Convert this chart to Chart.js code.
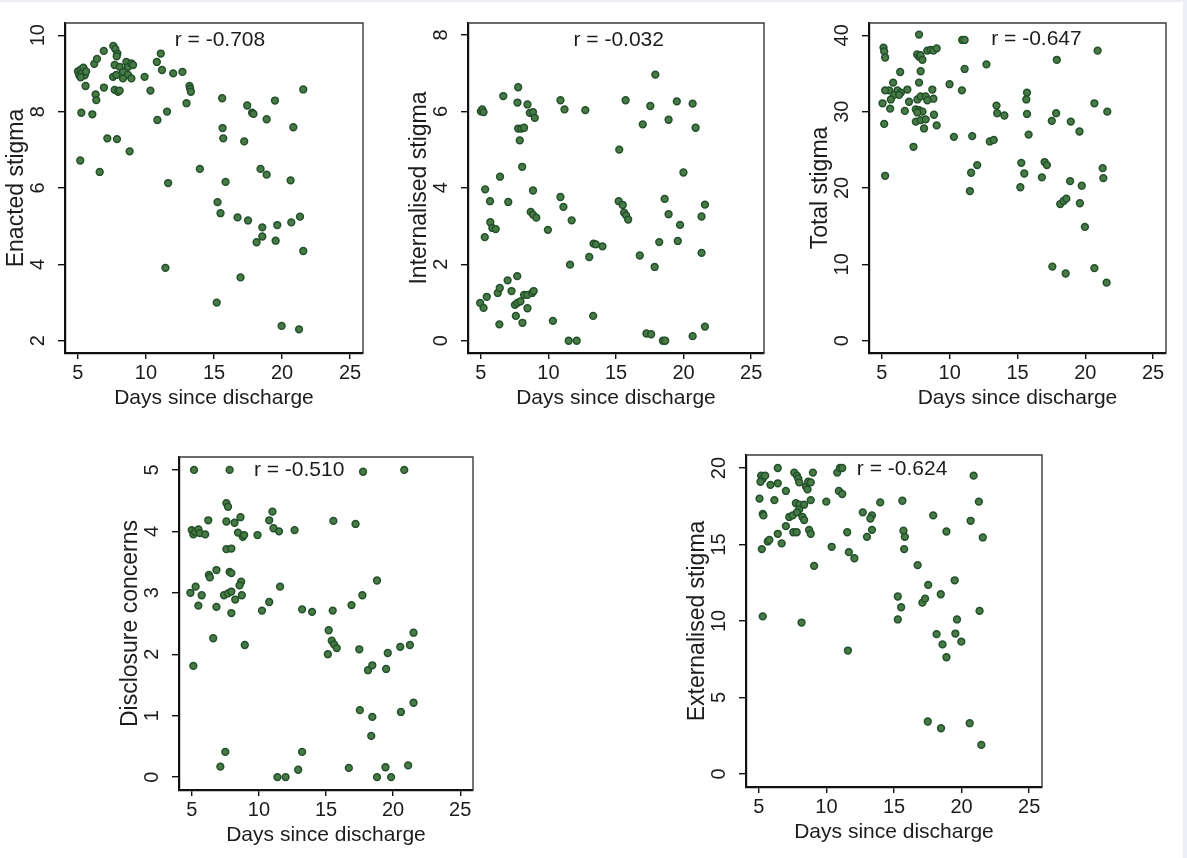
<!DOCTYPE html>
<html>
<head>
<meta charset="utf-8">
<title>Stigma vs days since discharge</title>
<script src="https://cdn.jsdelivr.net/npm/chart.js@4.4.1/dist/chart.umd.min.js"></script>
<style>
  html, body { margin: 0; padding: 0; }
  body { width: 1187px; height: 858px; background: #eceef5; position: relative; overflow: hidden; }
  #sheet { position: absolute; left: 0; top: 2px; width: 1183px; height: 856px; background: #fff; }
  canvas { position: absolute; }
</style>
</head>
<body>
<div id="sheet"></div>
<script>
// ---- data ----
const xTicks = [5, 10, 15, 20, 25];

const enactedDays  = [5.0, 5.1, 5.2, 5.3, 5.4, 5.5, 5.6, 5.2, 5.56, 6.2, 6.4, 6.9, 7.6, 7.75, 7.9, 7.85,
  7.7, 8.07, 8.56, 8.68, 8.93, 9.05, 8.31, 8.68, 7.58, 7.82, 8.31, 8.93, 7.7, 7.95, 8.07, 6.3, 6.35, 6.91,
  5.25, 6.06, 9.9, 10.33, 10.8, 11.09, 11.18, 12.0, 12.68, 13.2, 13.25, 13.3, 12.98, 11.55, 10.84, 15.6,
  17.44, 17.8, 17.9, 19.48, 21.56, 18.87, 20.83, 15.63, 15.68, 17.22, 7.16, 7.87, 8.8, 5.17, 6.6, 13.96,
  18.42, 18.87, 20.63, 11.63, 15.85, 15.26, 15.48, 16.73, 17.5, 18.55, 19.65, 20.68, 21.32, 18.55, 18.13,
  19.53, 21.56, 11.43, 16.95, 15.2, 19.97, 21.25];
const enactedScore = [9.05, 8.95, 9.1, 9.0, 9.15, 8.95, 9.05, 8.9, 8.67, 9.25, 9.38, 9.59, 9.72, 9.64, 9.52, 9.45,
  9.22, 9.17, 9.3, 9.17, 9.26, 9.22, 9.04, 8.96, 8.91, 8.96, 8.87, 8.87, 8.57, 8.52, 8.55, 8.45, 8.3, 8.63,
  7.97, 7.93, 8.91, 8.55, 9.3, 9.52, 9.09, 9.0, 9.04, 8.67, 8.6, 8.52, 8.22, 8.0, 7.78, 8.35,
  8.16, 7.97, 7.94, 8.29, 8.58, 7.8, 7.59, 7.57, 7.3, 7.22, 7.3, 7.28, 6.96, 6.72, 6.42, 6.5,
  6.5, 6.35, 6.2, 6.13, 6.16, 5.63, 5.34, 5.23, 5.15, 4.97, 5.03, 5.1, 5.25, 4.73, 4.58,
  4.62, 4.35, 3.91, 3.66, 3.0, 2.39, 2.3];
const enactedTicks = [2, 4, 6, 8, 10];

const internalDays  = [5.0, 5.1, 5.2, 6.66, 7.76, 7.71, 8.45, 8.62, 8.86, 8.99, 7.76, 8.0, 8.2, 7.88, 8.06, 6.42,
  10.89, 11.19, 12.73, 15.71, 15.24, 16.98, 17.54, 17.91, 18.89, 19.5, 20.67, 20.89, 19.99,
  5.32, 5.68, 7.03, 8.86, 10.89, 11.11, 11.72, 5.7, 5.85, 6.1, 5.29, 8.69, 8.86, 9.1, 9.96, 15.2, 15.5,
  15.6, 15.75, 15.9, 18.6, 18.89, 19.74, 21.58, 21.33, 19.57, 18.2, 21.33, 16.76, 17.86, 13.34, 13.51,
  14.0, 13.02, 11.6, 4.95, 5.2, 5.44, 6.25, 6.4, 6.98, 7.27, 7.69, 7.52, 7.71, 7.93, 8.2, 8.45, 8.79,
  8.91, 8.45, 7.59, 6.37, 8.08, 10.33, 13.31, 11.5, 12.09, 17.25, 17.6, 18.47, 18.64, 20.67, 21.58];
const internalScore = [6.0, 6.05, 5.98, 6.4, 6.63, 6.23, 6.18, 5.96, 5.98, 5.83, 5.55, 5.55, 5.57, 5.24, 4.55, 4.29,
  6.29, 6.05, 6.03, 6.29, 5.0, 5.66, 6.14, 6.96, 5.78, 6.26, 6.2, 5.57, 4.4,
  3.96, 3.65, 3.63, 3.93, 3.76, 3.5, 3.15, 3.1, 2.95, 2.92, 2.71, 3.37, 3.3, 3.22, 2.9, 3.65, 3.55,
  3.35, 3.28, 3.17, 3.71, 3.31, 3.03, 3.56, 3.25, 2.61, 2.58, 2.3, 2.23, 1.93, 2.54, 2.52,
  2.47, 2.19, 1.99, 0.99, 0.86, 1.15, 1.25, 1.38, 1.58, 1.3, 1.69, 0.94, 0.99, 1.03, 1.2, 1.2, 1.25,
  1.3, 0.85, 0.65, 0.43, 0.47, 0.52, 0.65, 0.0, 0.0, 0.19, 0.17, 0.0, 0.0, 0.12, 0.37];
const internalTicks = [0, 2, 4, 6, 8];

const totalDays  = [5.12, 5.17, 5.24, 7.74, 7.6, 7.75, 7.85, 7.99, 8.35, 8.6, 8.8, 9.04, 10.92, 11.1, 11.1, 12.71,
  17.9, 20.91, 6.35, 7.86, 7.74, 5.83, 5.54, 6.15, 6.4, 5.9, 6.27, 6.88, 5.24, 5.66, 5.05, 5.61, 6.69,
  7.0, 7.62, 7.86, 8.23, 8.72, 8.8, 8.35, 7.5, 7.74, 7.99, 7.62, 5.17, 7.5, 7.86, 8.23, 8.11, 8.84, 9.04,
  7.33, 9.99, 10.9, 10.31, 11.66, 12.96, 13.25, 13.45, 13.5, 14.03, 15.7, 15.65, 15.7, 15.82, 17.53,
  17.85, 18.93, 19.57, 20.67, 21.62, 5.24, 11.58, 12.03, 11.49, 15.28, 15.5, 15.21, 16.8, 17.0, 17.17,
  18.88, 19.74, 21.28, 21.33, 18.15, 18.4, 18.6, 19.6, 19.97, 17.57, 18.55, 20.67, 21.57];
const totalScore = [38.4, 37.9, 37.1, 40.1, 37.5, 37.2, 37.4, 36.8, 38.0, 38.1, 38.0, 38.3, 39.4, 39.4, 35.6, 36.2,
  36.8, 38.0, 35.2, 35.3, 33.8, 33.8, 32.8, 32.8, 32.5, 32.2, 32.2, 32.9, 32.8, 31.6, 31.1, 30.4, 30.1,
  31.3, 31.6, 32.0, 32.0, 32.9, 31.7, 31.5, 30.3, 30.2, 30.0, 29.9, 28.4, 28.7, 28.9, 29.0, 27.8, 29.6, 28.2,
  25.4, 33.6, 32.8, 26.7, 26.8, 26.1, 26.3, 30.8, 29.8, 29.5, 32.5, 31.6, 29.7, 27.0, 28.8,
  29.8, 28.7, 27.4, 31.1, 30.0, 21.6, 22.0, 23.0, 19.6, 23.3, 21.9, 20.1, 21.4, 23.4, 23.0,
  20.9, 20.3, 22.6, 21.3, 17.9, 18.3, 18.6, 18.0, 14.9, 9.7, 8.8, 9.5, 7.6];
const totalTicks = [0, 10, 20, 30, 40];

const disclosureDays  = [5.17, 7.82, 17.76, 20.83, 7.58, 7.7, 6.23, 7.58, 8.19, 8.63, 11.01, 10.77, 11.09, 11.5,
  12.66, 15.55, 17.2, 5.0, 5.12, 5.25, 5.5, 5.6, 6.0, 8.44, 8.8, 8.9, 9.9, 7.58, 7.95, 6.84, 6.28, 6.35,
  7.82, 7.95, 8.68, 8.56, 11.58, 18.8, 5.29, 4.9, 5.74, 7.4, 7.7, 7.95, 8.73, 8.24, 5.49, 6.84, 7.95,
  10.23, 10.77, 13.22, 13.96, 15.5, 16.9, 17.71, 6.6, 8.95, 15.2, 15.43, 15.6, 15.8, 15.14, 17.48, 18.13,
  18.45, 19.48, 19.6, 20.53, 21.25, 21.52, 5.12, 17.52, 18.45, 18.37, 20.58, 21.52, 7.5, 7.13, 13.22,
  12.93, 11.38, 11.99, 16.7, 18.8, 19.43, 19.85, 21.12];
const disclosureScore = [5.0, 5.0, 4.97, 5.0, 4.46, 4.4, 4.18, 4.16, 4.14, 4.23, 4.32, 4.18, 4.05, 4.0,
  4.02, 4.17, 4.12, 4.02, 3.95, 3.99, 4.03, 3.97, 3.95, 3.98, 3.91, 3.94, 3.94, 3.71, 3.72, 3.37, 3.29, 3.25,
  3.34, 3.32, 3.18, 3.12, 3.1, 3.2, 3.1, 3.0, 2.96, 2.96, 2.99, 3.02, 2.96, 2.89, 2.79, 2.77, 2.67,
  2.71, 2.85, 2.73, 2.69, 2.71, 2.8, 2.96, 2.26, 2.15, 2.39, 2.22, 2.16, 2.1, 2.0, 2.08, 1.74,
  1.82, 1.76, 2.02, 2.12, 2.15, 2.35, 1.81, 1.09, 0.98, 0.67, 1.06, 1.21, 0.41, 0.17, 0.41,
  0.12, 0.0, 0.0, 0.15, 0.0, 0.16, 0.0, 0.19];
const disclosureTicks = [0, 1, 2, 3, 4, 5];

const externalDays  = [6.4, 5.17, 5.29, 5.47, 5.12, 5.05, 5.29, 5.34, 5.86, 6.4, 6.15, 7.0, 7.62, 7.82, 7.92, 7.99,
  8.48, 8.6, 8.65, 8.84, 9.0, 10.8, 11.0, 11.17, 10.92, 11.17, 8.84, 9.99, 7.74, 7.99, 8.35, 7.99, 7.25,
  7.5, 7.82, 8.23, 8.35, 7.0, 7.55, 7.8, 6.4, 8.72, 8.84, 5.66, 5.78, 5.22, 6.69, 10.39, 9.09, 11.54,
  11.66, 12.07, 12.69, 13.37, 13.25, 13.37, 13.0, 13.98, 15.62, 15.7, 15.8, 15.75, 17.9, 18.88, 20.67,
  20.89, 21.28, 21.57, 16.75, 17.53, 19.49, 18.46, 17.1, 17.3, 15.28, 15.53, 15.28, 19.66, 21.33, 5.29,
  8.16, 18.15, 19.54, 18.59, 19.98, 18.88, 11.59, 17.5, 18.48, 20.6, 21.46];
const externalScore = [20.0, 19.5, 19.3, 19.5, 19.1, 18.0, 17.0, 16.9, 18.9, 19.0, 17.9, 18.5, 19.7, 19.5, 19.3, 19.06,
  18.8, 18.6, 19.1, 19.06, 19.7, 19.7, 20.0, 20.0, 18.5, 18.3, 17.9, 17.8, 17.7, 17.6, 17.6, 17.3, 16.8,
  16.9, 17.1, 16.8, 16.6, 16.2, 15.8, 15.8, 15.7, 15.95, 15.7, 15.2, 15.3, 14.7, 15.07, 14.85, 13.6, 15.8,
  14.5, 14.1, 17.1, 16.9, 16.7, 15.96, 15.5, 17.75, 17.86, 15.9, 15.5, 14.7, 16.9, 15.85, 16.55,
  19.5, 17.8, 15.46, 13.65, 12.36, 12.66, 11.75, 11.2, 11.46, 11.6, 10.9, 10.1, 10.1, 10.66, 10.3,
  9.9, 9.14, 9.18, 8.47, 8.65, 7.63, 8.07, 3.43, 2.99, 3.32, 1.9];
const externalTicks = [0, 5, 10, 15, 20];

// ---- layout ----
const FONT = '"Liberation Sans", Arial, Helvetica, sans-serif';
const INK = '#1c1c1c';
const AXW = 65, AXH = 62, PADT = 12, PADR = 12;

const panels = [
  { box: [65, 23, 298, 330],  title: 'Enacted stigma',      days: enactedDays,    score: enactedScore,    ticks: enactedTicks,    y: [1.68, 10.32],  note: 'r = -0.708', at: [15.44, 9.88] },
  { box: [468, 23, 296, 330], title: 'Internalised stigma', days: internalDays,   score: internalScore,   ticks: internalTicks,   y: [-0.32, 8.31],  note: 'r = -0.032', at: [15.2, 7.86] },
  { box: [869, 23, 297, 330], title: 'Total stigma',        days: totalDays,      score: totalScore,      ticks: totalTicks,      y: [-1.62, 41.62], note: 'r = -0.647', at: [16.4, 39.5] },
  { box: [179, 457, 294, 333], title: 'Disclosure concerns', days: disclosureDays, score: disclosureScore, ticks: disclosureTicks, y: [-0.21, 5.21],  note: 'r = -0.510', at: [13.0, 4.99] },
  { box: [746, 455, 296, 332], title: 'Externalised stigma', days: externalDays,   score: externalScore,   ticks: externalTicks,   y: [-0.85, 20.85], note: 'r = -0.624', at: [15.6, 19.93] }
];

// top/right frame, rotated y labels and the r note
const panelExtras = {
  id: 'panelExtras',
  afterDraw(chart, args, opts) {
    const { ctx, chartArea: a, scales: { x, y } } = chart;
    ctx.save();
    ctx.strokeStyle = '#3a3a3a';
    ctx.lineWidth = 1.4;
    ctx.beginPath();
    ctx.moveTo(a.left, a.top);
    ctx.lineTo(a.right, a.top);
    ctx.lineTo(a.right, a.bottom);
    ctx.stroke();

    ctx.fillStyle = INK;
    ctx.textAlign = 'center';
    ctx.textBaseline = 'middle';
    ctx.font = '20px ' + FONT;
    y.ticks.forEach(t => {
      ctx.save();
      ctx.translate(a.left - 27, y.getPixelForValue(t.value));
      ctx.rotate(-Math.PI / 2);
      ctx.fillText(String(t.value), 0, 0);
      ctx.restore();
    });

    ctx.font = '21px ' + FONT;
    ctx.fillText(opts.note, x.getPixelForValue(opts.at[0]), y.getPixelForValue(opts.at[1]));
    ctx.restore();
  }
};

panels.forEach(p => {
  const [left, top, w, h] = p.box;
  const canvas = document.createElement('canvas');
  canvas.width = w + AXW + PADR;
  canvas.height = h + PADT + AXH;
  canvas.style.left = (left - AXW) + 'px';
  canvas.style.top = (top - PADT) + 'px';
  document.body.appendChild(canvas);

  new Chart(canvas, {
    type: 'scatter',
    data: {
      datasets: [{
        data: p.days.map((d, i) => ({ x: d, y: p.score[i] })),
        backgroundColor: '#477a45',
        borderColor: '#22502a',
        borderWidth: 1.5,
        pointRadius: 3.4,
        pointHoverRadius: 3.4
      }]
    },
    options: {
      responsive: false,
      animation: false,
      events: [],
      layout: { padding: { left: 0, top: PADT, right: PADR, bottom: 0 } },
      plugins: {
        legend: { display: false },
        tooltip: { enabled: false },
        panelExtras: { note: p.note, at: p.at }
      },
      scales: {
        x: {
          type: 'linear',
          min: 4.05,
          max: 25.95,
          afterBuildTicks: s => { s.ticks = xTicks.map(v => ({ value: v })); },
          afterFit: s => { s.height = AXH; s.paddingLeft = 0; s.paddingRight = 0; },
          ticks: { autoSkip: false, maxRotation: 0, padding: 2, color: INK, font: { family: FONT, size: 20 } },
          grid: { drawOnChartArea: false, drawTicks: true, tickLength: 6, color: '#111', lineWidth: 1.4 },
          border: { color: '#111', width: 2.2 },
          title: { display: true, text: 'Days since discharge', color: INK, font: { family: FONT, size: 21 }, padding: { top: 0, bottom: 4 } }
        },
        y: {
          type: 'linear',
          min: p.y[0],
          max: p.y[1],
          afterBuildTicks: s => { s.ticks = p.ticks.map(v => ({ value: v })); },
          afterFit: s => { s.width = AXW; s.paddingTop = 0; s.paddingBottom = 0; },
          ticks: { display: false },
          grid: { drawOnChartArea: false, drawTicks: true, tickLength: 7, color: '#111', lineWidth: 1.4 },
          border: { color: '#111', width: 2.2 },
          title: { display: true, text: p.title, color: INK, font: { family: FONT, size: 23 }, padding: { top: 3, bottom: 0 } }
        }
      }
    },
    plugins: [panelExtras]
  });
});
</script>
</body>
</html>
